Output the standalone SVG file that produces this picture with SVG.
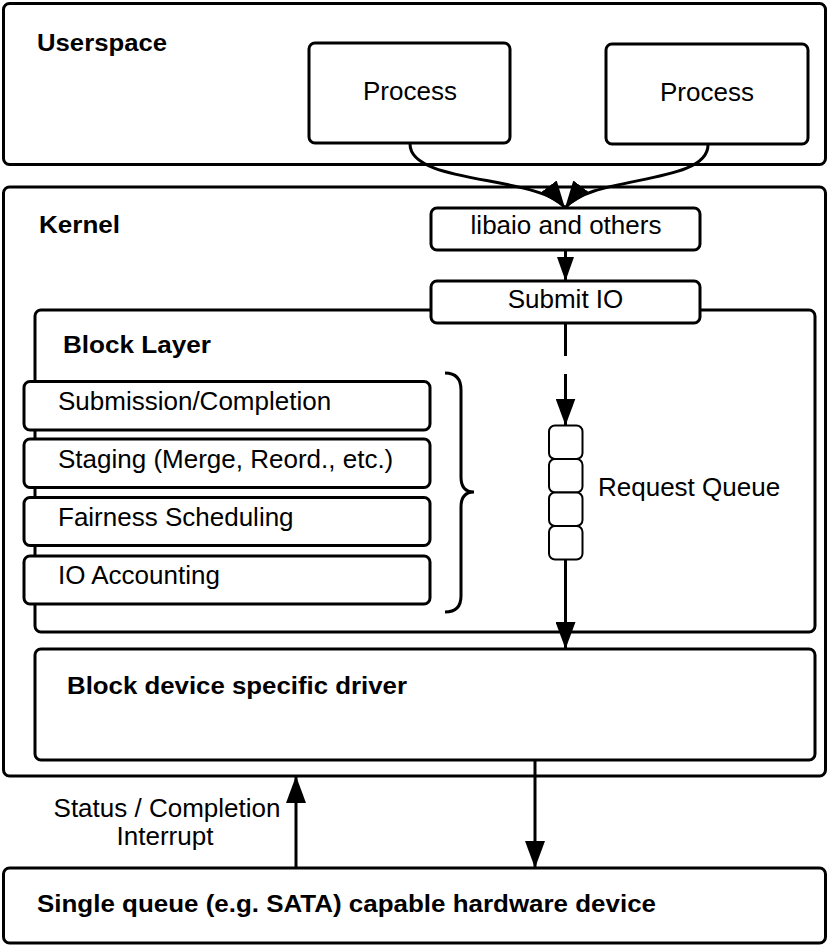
<svg xmlns="http://www.w3.org/2000/svg" width="829" height="946" viewBox="0 0 829 946">
<style>
.box{fill:#fff;stroke:#000;stroke-width:3}
.cell{fill:#fff;stroke:#000;stroke-width:2}
.t{font-family:"Liberation Sans",Arial,sans-serif;font-size:26px;fill:#000}
.b{font-family:"Liberation Sans",Arial,sans-serif;font-size:23px;font-weight:bold;fill:#000}
.c{text-anchor:middle}
.ln{fill:none;stroke:#000;stroke-width:3}
</style>
<defs>
<marker id="ah" markerUnits="userSpaceOnUse" markerWidth="27" markerHeight="20" refX="27" refY="10" orient="auto" viewBox="0 0 27 20">
<path d="M0,0 L27,10 L0,20 z" fill="#000"/>
</marker>
<marker id="ahs" markerUnits="userSpaceOnUse" markerWidth="24" markerHeight="17" refX="24" refY="8.5" orient="auto" viewBox="0 0 24 17">
<path d="M0,0 L24,8.5 L0,17 z" fill="#000"/>
</marker>
</defs>

<g id="userspace">
<rect class="box" x="3.5" y="3.5" width="822" height="161" rx="6"/>
<text class="b" x="37" y="51" textLength="130" lengthAdjust="spacingAndGlyphs">Userspace</text>
</g>
<g id="process1">
<rect class="box" x="309" y="43" width="201" height="100" rx="6"/>
<text class="t c" x="410" y="100">Process</text>
</g>
<g id="process2">
<rect class="box" x="606" y="44" width="202" height="100" rx="6"/>
<text class="t c" x="707" y="101">Process</text>
</g>

<g id="kernel">
<rect class="box" x="3.5" y="187" width="822" height="589" rx="6"/>
<text class="b" x="39" y="233" textLength="81" lengthAdjust="spacingAndGlyphs">Kernel</text>
</g>

<g id="block-layer">
<rect class="box" x="35" y="310" width="780" height="322" rx="6"/>
<text class="b" x="63" y="353" textLength="148" lengthAdjust="spacingAndGlyphs">Block Layer</text>
</g>

<g id="submission">
<rect class="box" x="24" y="381.5" width="406" height="48.5" rx="6"/>
<text class="t" x="58" y="410">Submission/Completion</text>
</g>
<g id="staging">
<rect class="box" x="24" y="439" width="406" height="48.5" rx="6"/>
<text class="t" x="58" y="468">Staging (Merge, Reord., etc.)</text>
</g>
<g id="fairness">
<rect class="box" x="24" y="497.5" width="406" height="48" rx="6"/>
<text class="t" x="58" y="526">Fairness Scheduling</text>
</g>
<g id="accounting">
<rect class="box" x="24" y="556" width="406" height="48" rx="6"/>
<text class="t" x="58" y="584">IO Accounting</text>
</g>
<g id="brace">
<path class="ln" d="M445,373 Q461,373 461,390 L461,477 Q461,492 474,492 Q461,492 461,507 L461,596 Q461,612 445,612"/>
</g>

<g id="driver">
<rect class="box" x="35" y="649" width="780" height="111" rx="6"/>
<text class="b" x="67" y="694" textLength="340" lengthAdjust="spacingAndGlyphs">Block device specific driver</text>
</g>

<g id="libaio">
<rect class="box" x="431" y="208" width="269" height="42" rx="6"/>
<text class="t c" x="566" y="234">libaio and others</text>
</g>
<g id="submit-io">
<rect class="box" x="431" y="281" width="269" height="42" rx="6"/>
<text class="t c" x="565.5" y="307.5">Submit IO</text>
</g>

<g id="request-queue">
<rect class="cell" x="549" y="425.5" width="33.5" height="33.5" rx="6"/>
<rect class="cell" x="549" y="459" width="33.5" height="33.5" rx="6"/>
<rect class="cell" x="549" y="492.5" width="33.5" height="33.5" rx="6"/>
<rect class="cell" x="549" y="526" width="33.5" height="33.5" rx="6"/>
<text class="t" x="598" y="496">Request Queue</text>
</g>

<g id="hardware">
<rect class="box" x="3.5" y="868" width="822" height="75" rx="6"/>
<text class="b" x="37" y="912" textLength="619" lengthAdjust="spacingAndGlyphs">Single queue (e.g. SATA) capable hardware device</text>
</g>

<g id="connectors">
<path class="ln" d="M410,144 C410,185 540,175 565,208" marker-end="url(#ah)"/>
<path class="ln" d="M708,145 C708,185 590,175 565,208" marker-end="url(#ah)"/>
<path class="ln" d="M565.5,250 V281" marker-end="url(#ahs)"/>
<path class="ln" d="M565.5,323 V356"/>
<path class="ln" d="M565.5,374 V425.5" marker-end="url(#ah)"/>
<path class="ln" d="M565.5,559.5 V649" marker-end="url(#ah)"/>
<path class="ln" d="M535,760 V868" marker-end="url(#ah)"/>
<path class="ln" d="M296,868 V776" marker-end="url(#ah)"/>
<text class="t c" x="167" y="817">Status / Completion</text>
<text class="t c" x="165" y="845">Interrupt</text>
</g>
</svg>
